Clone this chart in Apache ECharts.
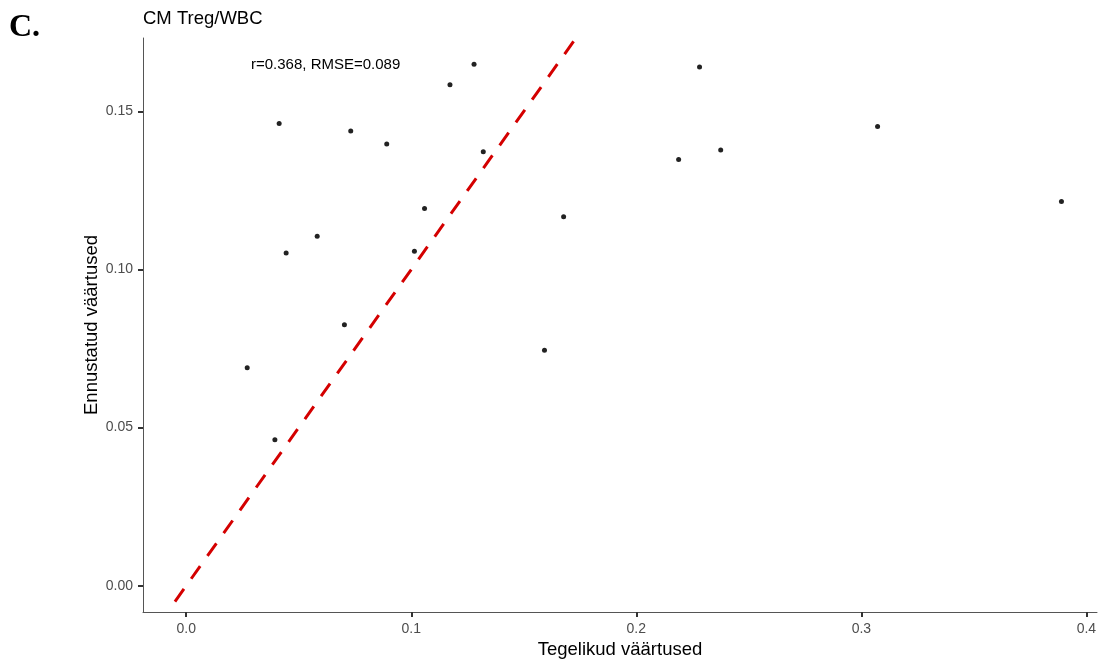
<!DOCTYPE html>
<html>
<head>
<meta charset="utf-8">
<script src="https://cdn.jsdelivr.net/npm/echarts@6/dist/echarts.min.js"></script>
<style>
  html, body { margin: 0; padding: 0; background: #fff; }
  #main { width: 1099px; height: 659px; }
</style>
</head>
<body>
<div id="main"></div>
<script>
// tegelikud (x) ja ennustatud (y) väärtused
var actual = [0.0271, 0.0394, 0.0413, 0.0444, 0.0582, 0.0703, 0.0731, 0.0891, 0.1014, 0.1059,
              0.1172, 0.1279, 0.1320, 0.1592, 0.1677, 0.2188, 0.2281, 0.2375, 0.3072, 0.3889];
var predicted = [0.0689, 0.0462, 0.1462, 0.1052, 0.1105, 0.0825, 0.1438, 0.1397, 0.1058, 0.1193,
                 0.1584, 0.1649, 0.1372, 0.0745, 0.1167, 0.1348, 0.1640, 0.1378, 0.1452, 0.1215];
var refLine = [-0.005, 0.173];
var xTicks = [0, 0.1, 0.2, 0.3, 0.4];
var yTicks = [0, 0.05, 0.1, 0.15];

window.onload = () => {
    var myChart = echarts.init(document.getElementById('main'));
    var points = actual.map((v, i) => [v, predicted[i]]);
    var option = {
        animation: false,
        grid: { left: 143, top: 38, right: 2, bottom: 47, containLabel: false, outerBoundsMode: 'none' },
        title: {
            text: 'CM Treg/WBC',
            left: 143, top: 9, padding: 0,
            textStyle: { fontFamily: 'Liberation Sans', fontSize: 18.5, fontWeight: 'normal', color: '#000' }
        },
        graphic: [
            { type: 'text', left: 9, top: 12,
              style: { text: 'C.', font: 'bold 32px "Liberation Serif"', fill: '#000' } },
            { type: 'text', left: 251, top: 57,
              style: { text: 'r=0.368, RMSE=0.089', font: '15px "Liberation Sans"', fill: '#000' } }
        ],
        xAxis: {
            type: 'value',
            min: -0.0192, max: 0.4047,
            name: 'Tegelikud väärtused',
            nameLocation: 'middle', nameGap: 28, nameMoveOverlap: false,
            nameTextStyle: { fontFamily: 'Liberation Sans', fontSize: 18.5, color: '#000' },
            axisLine: { onZero: false, lineStyle: { color: '#555', width: 1 } },
            axisTick: { show: true, length: 5, customValues: xTicks, lineStyle: { color: '#333', width: 2 } },
            axisLabel: {
                customValues: xTicks, margin: 10,
                formatter: v => v.toFixed(1),
                fontFamily: 'Liberation Sans', fontSize: 14, color: '#4d4d4d'
            },
            splitLine: { show: false }
        },
        yAxis: {
            type: 'value',
            min: -0.0083, max: 0.1732,
            name: 'Ennustatud väärtused',
            nameLocation: 'middle', nameGap: 42, nameMoveOverlap: false,
            nameTextStyle: { fontFamily: 'Liberation Sans', fontSize: 18.5, color: '#000' },
            axisLine: { show: true, onZero: false, lineStyle: { color: '#555', width: 1 } },
            axisTick: { show: true, length: 5, customValues: yTicks, lineStyle: { color: '#333', width: 2 } },
            axisLabel: {
                customValues: yTicks, margin: 10,
                formatter: v => v.toFixed(2),
                fontFamily: 'Liberation Sans', fontSize: 14, color: '#4d4d4d'
            },
            splitLine: { show: false }
        },
        series: [
            {
                type: 'line',
                data: refLine.map(v => [v, v]),
                symbol: 'none',
                silent: true,
                lineStyle: { color: '#d40000', width: 3, type: [15.5, 12.5] },
                z: 1
            },
            {
                type: 'scatter',
                data: points,
                symbolSize: 5,
                itemStyle: { color: '#222', opacity: 1 },
                z: 2
            }
        ]
    };
    option && myChart.setOption(option);
}
</script>
</body>
</html>
